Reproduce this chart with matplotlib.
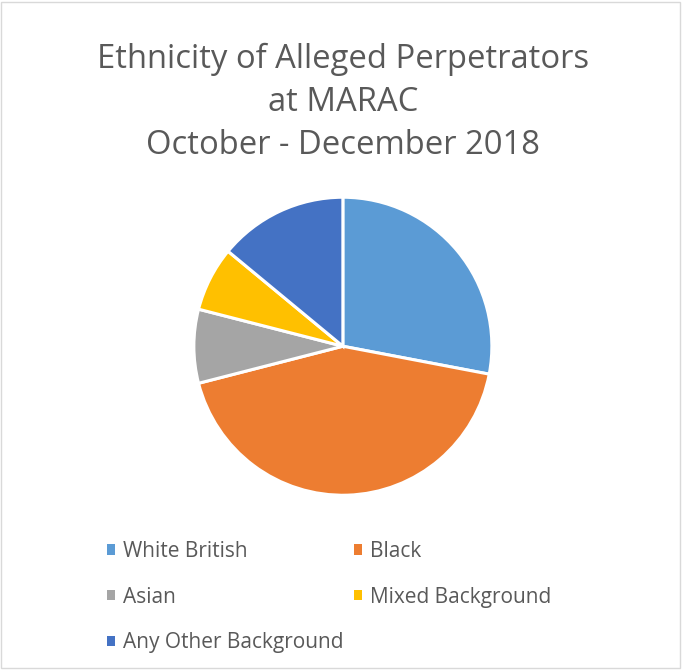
import matplotlib.pyplot as plt
from matplotlib.patches import Rectangle

categories = ["White British", "Black", "Asian", "Mixed Background", "Any Other Background"]
shares = [28, 43, 8, 7, 14]
colours = ["#5B9BD5", "#ED7D31", "#A5A5A5", "#FFC000", "#4472C4"]

title = "Ethnicity of Alleged Perpetrators\nat MARAC\nOctober - December 2018"
text_grey = "#595959"

plt.rcParams["font.family"] = ["Open Sans", "DejaVu Sans"]


def main():
    fig = plt.figure(figsize=(6.83, 6.71), dpi=100)

    # thin chart-area frame
    fig.patches.append(
        Rectangle((0.002, 0.004), 0.994, 0.993, transform=fig.transFigure,
                  fill=False, edgecolor="#D9D9D9", linewidth=1)
    )

    fig.text(0.502, 0.937, title, ha="center", va="top", fontsize=23.6,
             color=text_grey, linespacing=1.4)

    r_w, r_h = 298 / 683, 298 / 671
    ax = fig.add_axes([0.502 - r_w / 2, 0.484 - r_h / 2, r_w, r_h])
    wedges, _ = ax.pie(
        shares,
        colors=colours,
        startangle=90,
        counterclock=False,
        radius=1.0,
        wedgeprops=dict(edgecolor="white", linewidth=2.2),
    )
    ax.set_xlim(-1, 1)
    ax.set_ylim(-1, 1)
    ax.set_aspect("equal")

    # legend filled row by row: reorder because matplotlib fills columns first
    order = [0, 2, 4, 1, 3]
    leg = fig.legend(
        [wedges[i] for i in order],
        [categories[i] for i in order],
        ncol=2,
        loc="upper left",
        bbox_to_anchor=(0.129, 0.222),
        frameon=False,
        fontsize=15,
        handlelength=0.4,
        handleheight=0.4,
        handletextpad=0.38,
        columnspacing=0.49,
        labelspacing=1.19,
    )
    for t in leg.get_texts():
        t.set_color(text_grey)
    for h in leg.legend_handles:
        h.set_edgecolor("none")
        h.set_linewidth(0)

    fig.savefig("out.png", dpi=100)


if __name__ == "__main__":
    main()
